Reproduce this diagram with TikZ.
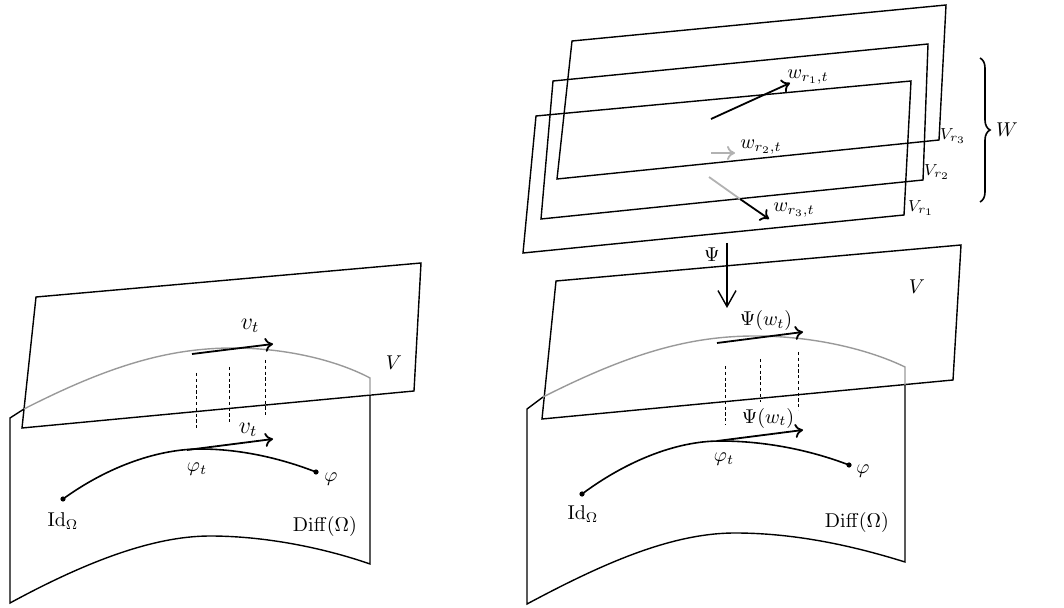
\documentclass[tikz,border=0pt]{standalone}
\usetikzlibrary{arrows.meta,decorations.pathreplacing}
\begin{document}
\begin{tikzpicture}[x=0.5pt,y=-0.5pt,
  edge/.style={line width=0.7pt,line join=miter},
  hid/.style={line width=0.7pt,draw=black!40},
  vec/.style={line width=0.9pt,-{To[length=4pt,width=7pt]}},
  gvec/.style={line width=0.9pt,draw=black!30,-{To[length=4pt,width=7pt,color=black!30]}},
  dashln/.style={line width=0.45pt,dash pattern=on 1.6pt off 1.3pt},
  lab/.style={inner sep=0pt},
  dot/.style={circle,fill=black,inner sep=0pt,minimum size=2.6pt}]
\useasboundingbox (0,0) rectangle (1064,608);

% ---------------- left panel ----------------
\draw[edge] (36,297) -- (421,263) -- (414,391) -- (22,428) -- cycle;
\draw[edge] (24,409) -- (10,418) -- (10,603)
  .. controls (80,565) and (150,536) .. (210,536)
  .. controls (270,536) and (330,550) .. (370,564) -- (370,395);
\draw[hid] (24,409) .. controls (110,365) and (170,348) .. (233,348)
  .. controls (290,348) and (340,362) .. (370,378) -- (370,395);

\node[dot] (idL) at (63,499) {};
\node[dot] (phiL) at (316,472) {};
\draw[line width=0.8pt] (idL.center) .. controls (110,465) and (160,449) .. (200,449)
  .. controls (240,449) and (280,458) .. (phiL.center);

\coordinate (aL1) at (192,354); \coordinate (bL1) at (273,344);
\coordinate (aL2) at (187,450); \coordinate (bL2) at (273,439);
\draw[vec] (aL1) -- (bL1);
\draw[vec] (aL2) -- (bL2);

\draw[dashln] (196,373) -- (196,430);
\draw[dashln] (229,367) -- (229,423);
\draw[dashln] (265,360) -- (265,417);

\node[lab] (vtL1) at (250,326) {\large $v_t$};
\node[lab] (vtL2) at (248,430) {\large $v_t$};
\node[lab] (phitL) at (197,469) {$\varphi_t$};
\node[lab] (IdL) at (63,521) {$\mathrm{Id}_\Omega$};
\node[lab] (phlL) at (331,479) {$\varphi$};
\node[lab] (DiffL) at (325,526) {$\mathrm{Diff}(\Omega)$};
\node[lab] (VL) at (394,363) {$V$};

% ---------------- right panel ----------------
\draw[edge] (556,281) -- (961,245) -- (953,380) -- (542,419) -- cycle;
\draw[edge] (543,397) -- (527,409) -- (527,604)
  .. controls (600,565) and (670,533) .. (735,533)
  .. controls (800,533) and (860,548) .. (905,562) -- (905,385);
\draw[hid] (543,397) .. controls (630,353) and (690,336) .. (755,336)
  .. controls (815,336) and (870,350) .. (905,367) -- (905,385);

\node[dot] (idR) at (582,494) {};
\node[dot] (phiR) at (849,465) {};
\draw[line width=0.8pt] (idR.center) .. controls (625,462) and (675,441) .. (720,441)
  .. controls (765,441) and (810,450) .. (phiR.center);

\coordinate (aR1) at (717,343); \coordinate (bR1) at (803,332);
\coordinate (aR2) at (717,441); \coordinate (bR2) at (803,430);
\draw[vec] (aR1) -- (bR1);
\draw[vec] (aR2) -- (bR2);

\draw[dashln] (725,366) -- (725,425);
\draw[dashln] (760,359) -- (760,402);
\draw[dashln] (798,352) -- (798,410);

\node[lab] (PsiR1) at (766,321) {$\Psi(w_t)$};
\node[lab] (PsiR2) at (768,418) {$\Psi(w_t)$};
\node[lab] (phitR) at (724,459) {$\varphi_t$};
\node[lab] (IdR) at (583,514) {$\mathrm{Id}_\Omega$};
\node[lab] (phlR) at (863,471) {$\varphi$};
\node[lab] (DiffR) at (857,522) {$\mathrm{Diff}(\Omega)$};
\node[lab] (VR) at (917,287) {$V$};

% Psi map
\coordinate (psiA) at (727,243); \coordinate (psiB) at (727,308);
\draw[line width=0.7pt,-{Straight Barb[length=8pt,width=9pt]}] (psiA) -- (psiB);
\node[lab] (Psi) at (712,255) {$\Psi$};

% ---------------- stack of planes ----------------
\draw[edge] (572,41) -- (946,5) -- (939,140) -- (557,179) -- cycle;
\draw[edge] (553,81) -- (928,44) -- (923,180) -- (541,219) -- cycle;
\draw[edge] (536,116) -- (911,81) -- (904,215) -- (523,253) -- cycle;

\node[lab] (Vr3) at (953,136) {\footnotesize $V_{r_3}$};
\node[lab] (Vr2) at (937,172) {\footnotesize $V_{r_2}$};
\node[lab] (Vr1) at (921,208) {\footnotesize $V_{r_1}$};

\coordinate (w1a) at (711,119); \coordinate (w1b) at (790,83);
\draw[vec] (w1a) -- (w1b);
\coordinate (w2a) at (711,153); \coordinate (w2b) at (735,153);
\draw[gvec] (w2a) -- (w2b);
\coordinate (w3a) at (709,177); \coordinate (w3m) at (740,199); \coordinate (w3b) at (769,219);
\draw[line width=0.9pt,draw=black!30] (w3a) -- (w3m);
\draw[vec] (w3m) -- (w3b);

\node[lab] (w1) at (808,77) {$w_{r_1,t}$};
\node[lab] (w2) at (761,147) {$w_{r_2,t}$};
\node[lab] (w3) at (794,210) {$w_{r_3,t}$};

\coordinate (brA) at (980,58); \coordinate (brB) at (980,202);
\draw[line width=0.8pt,decorate,decoration={brace,amplitude=5pt}] (brA) -- (brB);
\node[lab] (W) at (1007,130) {$W$};
\end{tikzpicture}
\end{document}
